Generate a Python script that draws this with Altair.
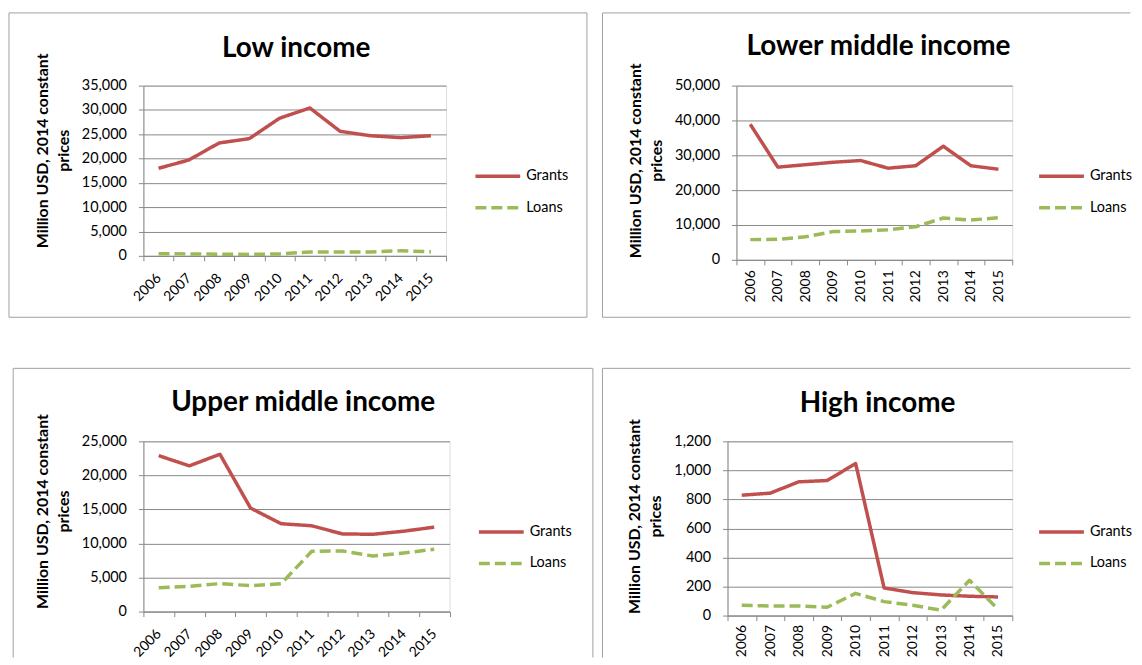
import altair as alt
import pandas as pd

# ---------------- data ----------------
years = ["2006", "2007", "2008", "2009", "2010", "2011", "2012", "2013", "2014", "2015"]
series_names = ["Grants", "Loans"]

low_grants = [18000, 19700, 23200, 24100, 28300, 30400, 25600, 24700, 24300, 24700]
low_loans = [450, 400, 350, 300, 400, 800, 800, 800, 1050, 850]
low_ticks = [0, 5000, 10000, 15000, 20000, 25000, 30000, 35000]

lmi_grants = [38900, 26600, 27300, 28000, 28500, 26300, 27000, 32600, 27000, 26000]
lmi_loans = [5800, 5900, 6600, 8100, 8300, 8600, 9500, 12000, 11400, 12100]
lmi_ticks = [0, 10000, 20000, 30000, 40000, 50000]

umi_grants = [22900, 21400, 23100, 15200, 12900, 12600, 11400, 11350, 11800, 12400]
umi_loans = [3500, 3700, 4100, 3800, 4100, 8850, 8900, 8150, 8600, 9150]
umi_ticks = [0, 5000, 10000, 15000, 20000, 25000]

high_grants = [829, 843, 921, 930, 1047, 190, 158, 142, 133, 128]
high_loans = [71, 66, 66, 57, 153, 96, 71, 37, 243, 43]
high_ticks = [0, 200, 400, 600, 800, 1000, 1200]

y_title = ["Million USD, 2014 constant", "prices"]

# ---------------- style ----------------
RED = "#C0504D"
GREEN = "#9BBB59"
GRID = "#888888"
FRAME = "#A0A0A0"
FONT = "Lato"


def panel(title, grants, loans, ticks, w, h, angle, xpad, xfont, segments, title_pos,
          ytitle_y, leg_dx):
    df = pd.DataFrame({
        "year": years * 2,
        "series": ["Grants"] * len(years) + ["Loans"] * len(years),
        "value": grants + loans,
    })
    leg = alt.Legend(
        title=None, orient="none", legendX=w + leg_dx, legendY=81,
        symbolType="stroke", symbolSize=2025, symbolStrokeWidth=3.5,
        labelFont=FONT, labelFontSize=14.5, labelColor="#000000", labelOffset=4,
        clipHeight=20, rowPadding=11.7, padding=0,
    )
    xaxis = alt.Axis(title=None, labelAngle=angle, labelAlign="right", labelBaseline="middle",
                     labelPadding=xpad, tickBand="extent", tickSize=5, tickColor=GRID,
                     domainColor=GRID, labelFont=FONT, labelFontSize=xfont,
                     labelColor="#000000", labelOverlap=False, grid=False)
    yaxis = alt.Axis(title=y_title, values=ticks, format=",d", tickSize=5, tickColor=GRID,
                     domainColor=GRID, gridColor=GRID, grid=True, labelFont=FONT,
                     labelFontSize=14.5, labelColor="#000000", labelPadding=12,
                     titleFont=FONT, titleFontSize=16, titleFontWeight="bold",
                     titleColor="#000000", titlePadding=10, titleLineHeight=21,
                     titleY=ytitle_y, labelOverlap=False)
    lines = alt.Chart(df).mark_line(strokeWidth=3.5, strokeJoin="round").encode(
        x=alt.X("year:O", bandPosition=0.5,
                scale=alt.Scale(type="band", paddingInner=0, paddingOuter=0), axis=xaxis),
        y=alt.Y("value:Q", scale=alt.Scale(domain=[ticks[0], ticks[-1]], nice=False), axis=yaxis),
        color=alt.Color("series:N", scale=alt.Scale(domain=series_names, range=[RED, GREEN]),
                        legend=leg),
        strokeDash=alt.StrokeDash("series:N",
                                  scale=alt.Scale(domain=series_names, range=[[1, 0], [11, 5]]),
                                  legend=leg),
    )
    box = pd.DataFrame({"k": [0]})
    layers = []
    # chart-area frame (decoration), drawn as individual border segments
    for (x1, y1, x2, y2) in segments:
        layers.append(
            alt.Chart(box).mark_rule(color=FRAME, strokeWidth=1).encode(
                x=alt.value(x1), y=alt.value(y1), x2=alt.value(x2), y2=alt.value(y2)))
    tx, ty = title_pos
    layers.append(
        alt.Chart(box).mark_text(text=title, font=FONT, fontSize=28, fontWeight="bold",
                                 align="center", baseline="alphabetic", color="#000000").encode(
            x=alt.value(tx), y=alt.value(ty)))
    layers.append(lines)
    return alt.layer(*layers).properties(width=w, height=h)


def box_segments(l, t, r, b, sides):
    seg = []
    if "t" in sides:
        seg.append((l, t, r, t))
    if "b" in sides:
        seg.append((l, b, r, b))
    if "l" in sides:
        seg.append((l, t, l, b))
    if "r" in sides:
        seg.append((r, t, r, b))
    return seg


tl = panel("Low income", low_grants, low_loans, low_ticks, 304, 171, -45, 15, 14,
           box_segments(-135, -73, 445.5, 232.7, "tblr"), (153.5, -29), 65, 27.5)
tr = panel("Lower middle income", lmi_grants, lmi_loans, lmi_ticks, 277, 175, -90, 5, 14,
           box_segments(-134.6, -73, 395.7, 232.7, "tbl"), (142.7, -30.5), 75, 25)
bl = panel("Upper middle income", umi_grants, umi_loans, umi_ticks, 307.5, 171, -45, 15, 14,
           box_segments(-130.8, -73.3, 451.5, 217.2, "tlr"), (160.5, -30), 70, 27.5)
br = panel("High income", high_grants, high_loans, high_ticks, 286, 175, -90, 4, 14,
           box_segments(-125.6, -73.3, 404.7, 217.2, "tl"), (150.7, -29.3), 75, 25)

top = alt.hconcat(tl, tr, spacing=12.7).resolve_scale(
    color="independent", strokeDash="independent").resolve_legend(
    color="independent", strokeDash="independent")
bottom = alt.hconcat(bl, br, spacing=6.7).resolve_scale(
    color="independent", strokeDash="independent").resolve_legend(
    color="independent", strokeDash="independent")

chart = alt.vconcat(top, bottom, spacing=48.3).resolve_scale(
    color="independent", strokeDash="independent").resolve_legend(
    color="independent", strokeDash="independent").properties(
    padding={"left": 0, "top": 2.5, "right": 0, "bottom": 0}
).configure_view(stroke=None).configure(font=FONT)

chart.save("out.html", embed_options={"renderer": "svg", "actions": False})
